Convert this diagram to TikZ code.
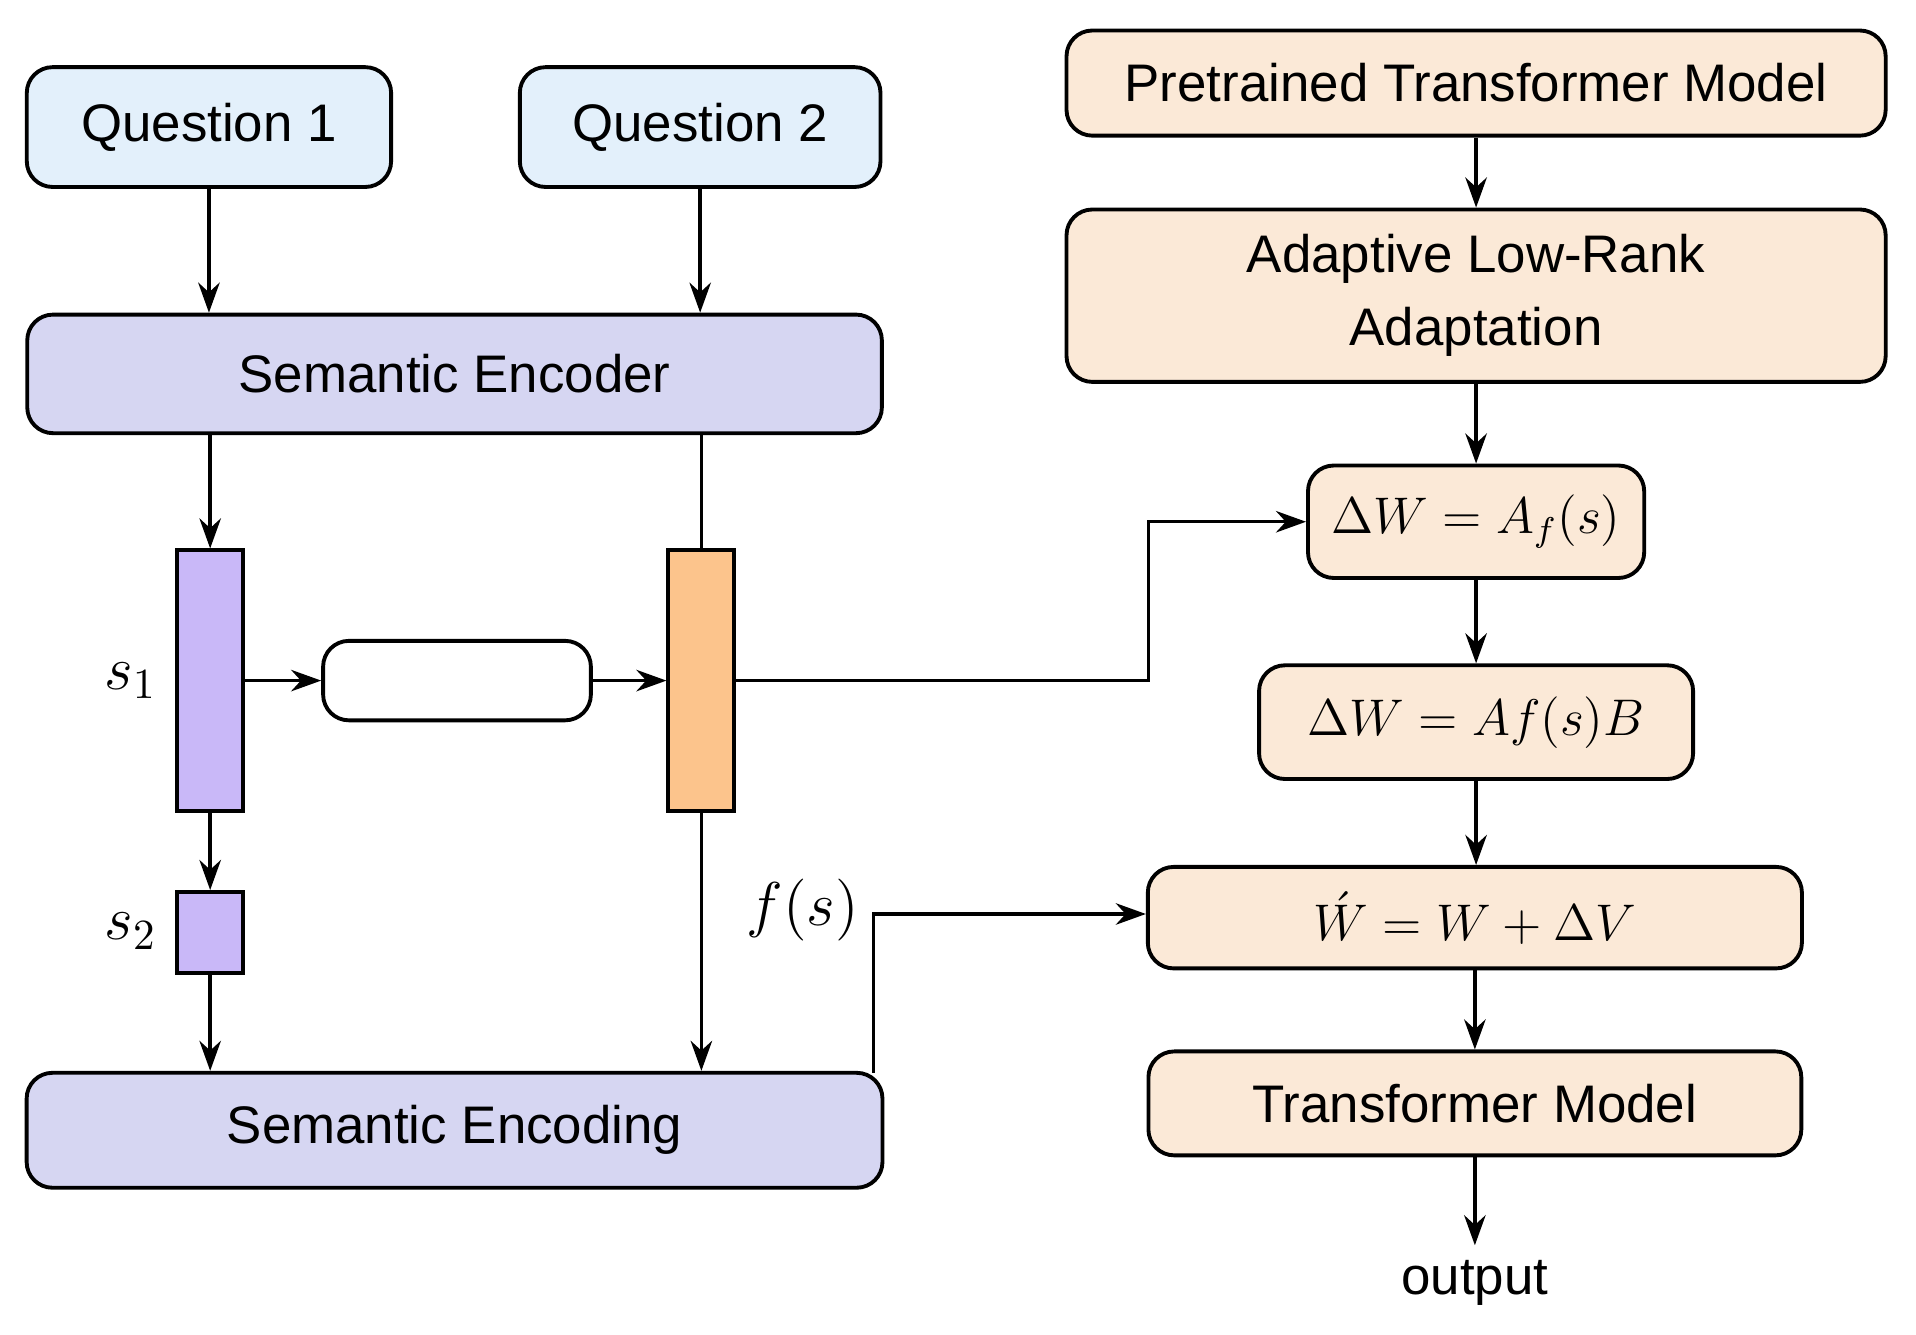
\documentclass[tikz,border=0pt]{standalone}
\usepackage{fontspec}
\setmainfont{Liberation Sans}
\usepackage{amsmath}
\usetikzlibrary{arrows.meta}
\definecolor{qblue}{HTML}{E3F0FB}
\definecolor{encpurple}{HTML}{D6D6F2}
\definecolor{barpurple}{HTML}{C9B8F8}
\definecolor{barorange}{HTML}{FCC48C}
\definecolor{peach}{HTML}{FBE9D7}
\begin{document}
\begin{tikzpicture}[x=0.01cm,y=-0.01cm,
  box/.style={draw,rounded corners=6pt,line width=0.9pt,inner sep=0pt,font=\fontsize{12.3}{15}\selectfont,align=center},
  bar/.style={draw,line width=0.9pt,inner sep=0pt},
  arr/.style={-{Stealth[length=7pt,width=5pt]},line width=0.8pt}]
\useasboundingbox (0,0) rectangle (1568,1092);
% left column
\node[box,fill=qblue,minimum width=2.98cm,minimum height=0.98cm] (q1) at (171,104) {Question 1};
\node[box,fill=qblue,minimum width=2.95cm,minimum height=0.98cm] (q2) at (573,104) {Question 2};
\node[box,fill=encpurple,minimum width=6.99cm,minimum height=0.97cm] (enc) at (372,306) {Semantic Encoder};
\node[bar,fill=barpurple,minimum width=0.54cm,minimum height=2.13cm] (s1) at (172,557) {};
\node[bar,fill=barpurple,minimum width=0.54cm,minimum height=0.66cm] (s2) at (172,763) {};
\node[box,fill=white,minimum width=2.19cm,minimum height=0.65cm] (mid) at (374,557) {};
\node[bar,fill=barorange,minimum width=0.54cm,minimum height=2.13cm] (fs) at (574,557) {};
\node[box,fill=encpurple,minimum width=7.0cm,minimum height=0.94cm] (sencg) at (372,925) {Semantic Encoding};
\node (s1lab) at (107,557) {\Large $s_1$};
\node (s2lab) at (107,762) {\Large $s_2$};
\node (fslab) at (657,745) {\Large $f(s)$};
% right column
\node[box,fill=peach,minimum width=6.7cm,minimum height=0.86cm] (pre) at (1208,68) {Pretrained Transformer Model};
\node[box,fill=peach,minimum width=6.7cm,minimum height=1.41cm] (alr) at (1208,242) {Adaptive Low-Rank\\[2pt]Adaptation};
\node[box,fill=peach,minimum width=2.75cm,minimum height=0.92cm,font=\large] (dw1) at (1208,427) {$\Delta W = A_f(s)$};
\node[box,fill=peach,minimum width=3.55cm,minimum height=0.93cm,font=\large] (dw2) at (1208,591) {$\Delta W = A f(s) B$};
\node[box,fill=peach,minimum width=5.35cm,minimum height=0.83cm,font=\large] (wh) at (1207,751) {$\acute{W} = W + \Delta V$};
\node[box,fill=peach,minimum width=5.34cm,minimum height=0.85cm] (tm) at (1207,903) {Transformer Model};
\node[font=\fontsize{12.3}{15}\selectfont] (out) at (1207,1050) {output};
% connectors
\draw[arr] (q1) -- (q1|-enc.north);
\draw[arr] (q2) -- (q2|-enc.north);
\draw[arr] (s1|-enc.south) -- (s1);
\draw[line width=0.8pt] (fs|-enc.south) -- (fs.north);
\draw[arr] (s1) -- (mid);
\draw[arr] (mid) -- (fs);
\draw[arr] (fs.east) -- (940,557) -- (940,427) -- (dw1.west);
\draw[arr] (s1) -- (s2);
\draw[arr] (s2) -- (s2|-sencg.north);
\draw[arr] (fs) -- (fs|-sencg.north);
\draw[arr] (715,878) -- (715,748) -- (wh.west|-0,748);
\draw[arr] (pre) -- (alr);
\draw[arr] (alr) -- (dw1);
\draw[arr] (dw1) -- (dw2);
\draw[arr] (dw2.south) -- (dw2.south|-wh.north);
\draw[arr] (wh) -- (tm);
\draw[arr] (tm) -- (out);
\end{tikzpicture}
\end{document}
